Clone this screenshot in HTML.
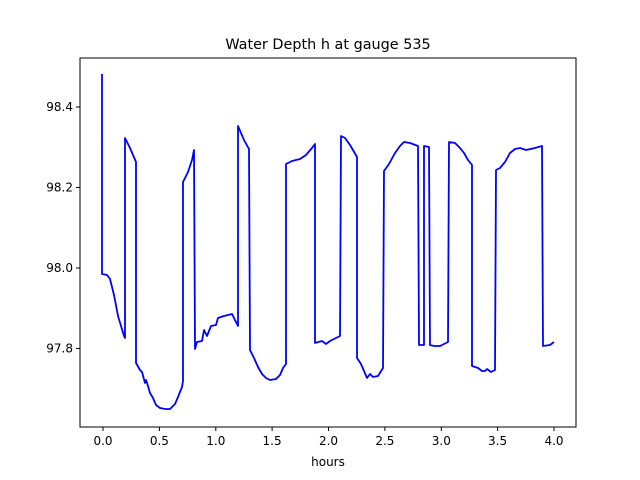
<!DOCTYPE html>
<html><head><style>body{margin:0;background:#fff}svg{display:block}text{font-family:"DejaVu Sans","Liberation Sans",sans-serif;fill:#000}</style></head>
<body>
<svg width="640" height="480" viewBox="0 0 640 480">
<rect width="640" height="480" fill="#fff"/>
<polyline fill="none" stroke="#0000ff" stroke-width="1.8" stroke-linejoin="round" points="102,74 102,274 107,275 110,279 114,295 118,316 121,326 124,336 125,338 125,138 130,148 136,162 136,363 140,370 142,372 145,383 146,380 148,386 150,393 153,398 156,405 160,408 165,409 170,409 175,404 178,397 182,387 183,381 183,182 188,172 192,160 194,150 195,349 197,342 202,341 204,330 207,336 211,326 216,325 218,318 224,316 232,314 234,318 238,326 238,126 244,140 249,149 250,350 254,358 258,367 262,374 266,378 270,380 276,379 280,375 283,368 286,364 286,164 292,161 300,159 306,155 312,148 315,144 315,343 322,341 326,344 330,341 336,338 340,336 341,136 345,138 350,145 357,157 357,358 361,364 364,371 367,378 370,374 373,377 378,376 383,368 384,171 389,164 395,153 400,146 404,142 410,143 418,146 419,345 424,345 424,146 429,147 430,345 434,346 440,346 444,344 448,342 449,142 455,143 460,148 464,153 468,160 472,165 472,366 478,368 482,371 485,371 487,369 491,372 495,370 496,170 500,168 505,162 510,153 515,149 520,148 526,150 535,148 542,146 543,346 550,345 554,342"/>
<rect x="80" y="58" width="496" height="369" fill="none" stroke="#000" stroke-width="1"/>
<g stroke="#000" stroke-width="1">
<line x1="103" y1="427" x2="103" y2="431"/><line x1="159.4" y1="427" x2="159.4" y2="431"/><line x1="215.8" y1="427" x2="215.8" y2="431"/><line x1="272.1" y1="427" x2="272.1" y2="431"/><line x1="328.5" y1="427" x2="328.5" y2="431"/><line x1="384.9" y1="427" x2="384.9" y2="431"/><line x1="441.3" y1="427" x2="441.3" y2="431"/><line x1="497.6" y1="427" x2="497.6" y2="431"/><line x1="554" y1="427" x2="554" y2="431"/>
<line x1="76" y1="107" x2="80" y2="107"/><line x1="76" y1="187.5" x2="80" y2="187.5"/><line x1="76" y1="268" x2="80" y2="268"/><line x1="76" y1="348.5" x2="80" y2="348.5"/>
</g>
<g font-size="12" text-anchor="middle">
<text x="103" y="445">0.0</text><text x="159.4" y="445">0.5</text><text x="215.8" y="445">1.0</text><text x="272.1" y="445">1.5</text><text x="328.5" y="445">2.0</text><text x="384.9" y="445">2.5</text><text x="441.3" y="445">3.0</text><text x="497.6" y="445">3.5</text><text x="554" y="445">4.0</text>
<text x="328" y="466">hours</text>
</g>
<g font-size="12" text-anchor="end">
<text x="73" y="111">98.4</text><text x="73" y="191.5">98.2</text><text x="73" y="272">98.0</text><text x="73" y="352.5">97.8</text>
</g>
<text x="328" y="49" font-size="14.4" text-anchor="middle">Water Depth h at gauge 535</text>
</svg>
</body></html>
